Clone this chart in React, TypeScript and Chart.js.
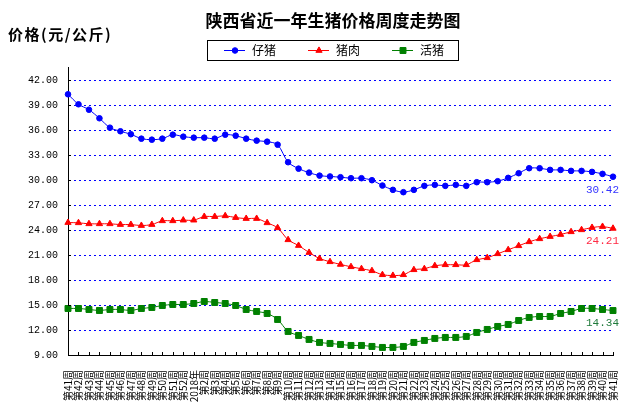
import { useEffect, useRef } from 'react';
import { Chart, registerables } from 'chart.js';
import type { Plugin } from 'chart.js';
import { drawPoint } from 'chart.js/helpers';

Chart.register(...registerables);

const weeks = [
  '第41周', '第42周', '第43周', '第44周', '第45周', '第46周', '第47周', '第48周',
  '第49周', '第50周', '第51周', '第52周', '2018年', '第2周', '第3周', '第4周',
  '第5周', '第6周', '第7周', '第8周', '第9周', '第10周', '第11周', '第12周',
  '第13周', '第14周', '第15周', '第16周', '第17周', '第18周', '第19周', '第20周',
  '第21周', '第22周', '第23周', '第24周', '第25周', '第26周', '第27周', '第28周',
  '第29周', '第30周', '第31周', '第32周', '第33周', '第34周', '第35周', '第36周',
  '第37周', '第38周', '第39周', '第40周', '第41周',
];

// 仔猪
const pigletPrice = [
  40.32, 39.12, 38.47, 37.44, 36.31, 35.88, 35.52, 34.99, 34.87, 34.99,
  35.47, 35.23, 35.11, 35.11, 34.99, 35.47, 35.35, 34.99, 34.75, 34.63,
  34.27, 32.16, 31.39, 30.91, 30.55, 30.45, 30.36, 30.24, 30.24, 30.0,
  29.36, 28.84, 28.56, 28.84, 29.32, 29.44, 29.32, 29.44, 29.32, 29.76,
  29.76, 29.88, 30.28, 30.84, 31.44, 31.44, 31.24, 31.24, 31.12, 31.12,
  31.0, 30.76, 30.42,
];

// 猪肉
const porkPrice = [
  24.91, 24.88, 24.76, 24.76, 24.76, 24.67, 24.67, 24.55, 24.67, 25.12,
  25.12, 25.2, 25.2, 25.63, 25.63, 25.72, 25.51, 25.39, 25.39, 24.88,
  24.28, 22.84, 22.15, 21.31, 20.59, 20.2, 19.88, 19.6, 19.36, 19.12,
  18.64, 18.55, 18.64, 19.24, 19.36, 19.72, 19.84, 19.84, 19.84, 20.44,
  20.68, 21.16, 21.64, 22.12, 22.6, 22.96, 23.23, 23.47, 23.8, 24.04,
  24.31, 24.43, 24.21,
];

// 活猪
const hogPrice = [
  14.59, 14.59, 14.47, 14.35, 14.47, 14.47, 14.35, 14.59, 14.71, 14.95,
  15.07, 15.07, 15.19, 15.43, 15.31, 15.19, 14.95, 14.47, 14.23, 13.99,
  13.27, 11.83, 11.35, 10.87, 10.51, 10.39, 10.27, 10.15, 10.15, 10.03,
  9.91, 9.91, 10.03, 10.51, 10.75, 10.99, 11.11, 11.11, 11.23, 11.71,
  12.07, 12.43, 12.67, 13.15, 13.51, 13.63, 13.63, 13.99, 14.23, 14.59,
  14.59, 14.47, 14.34,
];

const CJK = '"Noto Sans CJK SC", sans-serif';
const MONO = '"Liberation Mono", monospace';

// 标题、图例框、内刻度、末值标注
const decor: Plugin<'line'> = {
  id: 'decor',
  afterDraw(chart) {
    const { ctx, chartArea, scales } = chart;
    ctx.save();

    ctx.fillStyle = '#000';
    ctx.textBaseline = 'middle';
    ctx.textAlign = 'center';
    ctx.font = `bold 17px ${CJK}`;
    ctx.fillText('陕西省近一年生猪价格周度走势图', 333, 21);

    ctx.textAlign = 'left';
    ctx.font = `bold 15px ${CJK}`;
    (ctx as any).letterSpacing = '1.5px';
    ctx.fillText('价格(元/公斤)', 8, 34);
    (ctx as any).letterSpacing = '0px';

    // 图例
    ctx.strokeStyle = '#000';
    ctx.lineWidth = 1;
    ctx.strokeRect(207.5, 40.5, 251, 20);
    const legendX = [224, 308, 392];
    ctx.font = `12px ${CJK}`;
    chart.data.datasets.forEach((ds: any, i) => {
      const x = legendX[i];
      const y = 50.5;
      ctx.strokeStyle = ds.borderColor;
      ctx.fillStyle = ds.borderColor;
      ctx.beginPath();
      ctx.moveTo(x, y);
      ctx.lineTo(x + 21, y);
      ctx.stroke();
      drawPoint(ctx, { pointStyle: ds.pointStyle, radius: ds.pointRadius, rotation: 0, borderWidth: 1 }, x + 11, y);
      ctx.fillStyle = '#000';
      ctx.fillText(ds.label, x + 28, y);
    });

    // 内刻度
    ctx.strokeStyle = '#000';
    ctx.lineWidth = 1;
    ctx.beginPath();
    scales.x.ticks.forEach((_, i) => {
      const x = Math.round(scales.x.getPixelForTick(i)) + 0.5;
      ctx.moveTo(x, chartArea.bottom);
      ctx.lineTo(x, chartArea.bottom - 3);
    });
    scales.y.ticks.forEach((t) => {
      const y = Math.round(scales.y.getPixelForValue(t.value)) + 0.5;
      ctx.moveTo(chartArea.left, y);
      ctx.lineTo(chartArea.left + 3, y);
    });
    ctx.stroke();

    // 末值标注
    ctx.font = `11px ${MONO}`;
    ctx.textAlign = 'right';
    chart.data.datasets.forEach((ds: any, i) => {
      const meta = chart.getDatasetMeta(i);
      const pt = meta.data[meta.data.length - 1];
      const v = ds.data[ds.data.length - 1] as number;
      ctx.fillStyle = ds.labelColor;
      ctx.fillText(v.toFixed(2), pt.x + 6, pt.y + 13);
    });

    ctx.restore();
  },
};

export default function App() {
  const canvasRef = useRef<HTMLCanvasElement>(null);

  useEffect(() => {
    document.body.style.margin = '0';
    if (!canvasRef.current) return;

    const chart = new Chart(canvasRef.current, {
      type: 'line',
      data: {
        labels: weeks,
        datasets: [
          {
            label: '仔猪',
            data: pigletPrice,
            borderColor: '#0000ff',
            backgroundColor: '#0000ff',
            pointStyle: 'circle',
            pointRadius: 2.8,
            labelColor: '#3535ff',
          } as any,
          {
            label: '猪肉',
            data: porkPrice,
            borderColor: '#ff0000',
            backgroundColor: '#ff0000',
            pointStyle: 'triangle',
            pointRadius: 3.6,
            labelColor: '#ff2a44',
          } as any,
          {
            label: '活猪',
            data: hogPrice,
            borderColor: '#008000',
            backgroundColor: '#008000',
            pointStyle: 'rect',
            pointRadius: 4.2,
            labelColor: '#1f7a3a',
          } as any,
        ],
      },
      options: {
        responsive: false,
        animation: false,
        layout: { padding: { top: 67, right: 15, left: 0, bottom: 0 } },
        elements: {
          line: { borderWidth: 1, tension: 0.3 },
          point: { borderWidth: 1, hoverRadius: 4 },
        },
        scales: {
          x: {
            grid: { display: false },
            border: { color: '#000', width: 1 },
            afterFit: (s: any) => {
              s.height = 49;
            },
            ticks: {
              autoSkip: false,
              minRotation: 90,
              maxRotation: 90,
              padding: 7,
              color: '#000',
              font: { family: CJK, size: 10 },
            },
          },
          y: {
            min: 9,
            max: 43.6,
            afterFit: (s: any) => {
              s.width = 68;
            },
            grid: {
              drawTicks: false,
              lineWidth: 1,
              color: (c: any) => (c.tick && c.tick.value === 9 ? 'rgba(0,0,0,0)' : '#0000ff'),
            },
            border: { color: '#000', width: 1, dash: [2, 3] },
            ticks: {
              stepSize: 3,
              includeBounds: false,
              padding: 10,
              color: '#000',
              font: { family: MONO, size: 10 },
              callback: (v: any) => Number(v).toFixed(2),
            },
          },
        },
        plugins: {
          legend: { display: false },
          title: { display: false },
          tooltip: { enabled: false },
        },
      },
      plugins: [decor],
    });

    return () => {
      chart.destroy();
    };
  }, []);

  return (
    <div style={{ width: 632, height: 404, background: '#fff' }}>
      <canvas ref={canvasRef} width={632} height={404} />
    </div>
  );
}
